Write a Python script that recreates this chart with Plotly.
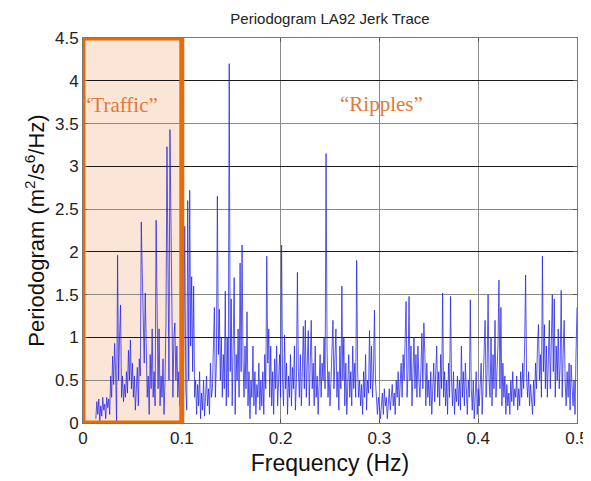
import numpy as np
import plotly.graph_objects as go

# Frequency grid (Hz): first bin and bin spacing
freq_start = 0.013
freq_step = 0.001

# Periodogram values, one per bin (0.013 ... 0.500 Hz)
traffic_vals = [
    0.05, 0.25, 0.10, 0.28, 0.02, 0.20, 0.08, 0.30, 0.15, 0.22,   # 0.013-0.022
    0.05, 0.30, 0.18, 0.28, 0.10, 0.55, 0.30, 0.78, 0.45, 0.93,   # 0.023-0.032
    0.60, 0.02, 1.96, 0.50, 1.00, 1.38, 0.30, 0.55, 0.25, 0.45,   # 0.033-0.042
    0.30, 0.60, 0.35, 0.85, 0.50, 0.97, 0.40, 0.70, 0.30, 0.55,   # 0.043-0.052
    0.15, 0.40, 0.65, 0.20, 0.75, 0.55, 2.35, 1.74, 1.10, 0.70,   # 0.053-0.062
    1.52, 0.90, 0.30, 0.55, 0.10, 0.80, 0.40, 1.10, 0.30, 0.60,   # 0.063-0.072
    0.20, 2.37, 0.90, 0.40, 1.10, 0.20, 0.55, 0.30, 0.75, 0.10,   # 0.073-0.082
    0.50, 1.20, 3.23, 1.90, 0.50, 3.43, 2.34, 0.70, 0.30, 1.00,   # 0.083-0.092
    1.17, 0.50, 0.90, 0.30, 0.60, 0.20, 0.50, 0.45,               # 0.093-0.100
]
ripple_vals = [
    0.30, 0.80, 2.30, 0.40, 0.15, 2.60, 0.50, 2.72, 0.90, 1.71,   # 0.101-0.110
    0.60, 1.60, 0.30, 0.50, 0.10, 0.45, 0.20, 0.60, 0.05, 0.35,   # 0.111-0.120
    0.15, 0.50, 0.08, 0.30, 0.55, 0.20, 0.40, 0.10, 0.70, 0.30,   # 0.121-0.130
    0.40, 0.90, 1.35, 0.30, 0.70, 2.65, 0.80, 1.33, 0.50, 1.00,   # 0.131-0.140
    0.30, 0.80, 0.40, 1.54, 0.20, 1.00, 0.30, 4.20, 0.60, 1.45,   # 0.141-0.150
    0.20, 0.90, 1.70, 0.10, 0.80, 0.50, 1.10, 0.30, 1.87, 0.60,   # 0.151-0.160
    2.08, 0.70, 0.30, 0.90, 0.40, 1.30, 0.20, 0.60, 0.05, 0.50,   # 0.161-0.170
    0.30, 0.90, 0.20, 0.60, 0.10, 0.45, 0.30, 0.70, 0.15, 0.50,   # 0.171-0.180
    0.20, 0.60, 0.10, 0.80, 0.40, 1.95, 0.70, 1.10, 0.30, 0.90,   # 0.181-0.190
    0.20, 0.60, 0.10, 0.75, 0.40, 0.90, 0.20, 0.50, 0.80, 0.30,   # 0.191-0.200
    2.08, 0.50, 0.20, 1.03, 0.40, 0.70, 0.10, 0.55, 0.30, 0.80,   # 0.201-0.210
    0.20, 0.65, 0.40, 0.90, 0.15, 0.50, 1.76, 0.60, 0.30, 0.80,   # 0.211-0.220
    0.20, 0.60, 1.13, 0.40, 1.20, 0.30, 0.90, 1.08, 0.20, 0.70,   # 0.221-0.230
    1.20, 0.40, 0.70, 0.20, 0.90, 0.30, 0.55, 0.10, 0.60, 0.80,   # 0.231-0.240
    0.30, 0.70, 0.50, 1.00, 0.40, 3.15, 0.90, 0.30, 0.60, 0.20,   # 0.241-0.250
    0.50, 0.90, 1.20, 0.40, 0.80, 1.10, 0.30, 0.60, 0.15, 0.90,   # 0.251-0.260
    0.40, 1.60, 0.50, 1.00, 0.20, 0.70, 0.10, 0.50, 0.80, 0.30,   # 0.261-0.270
    0.60, 0.20, 0.90, 0.40, 0.70, 0.30, 1.90, 0.60, 0.30, 0.50,   # 0.271-0.280
    0.20, 0.45, 0.10, 0.60, 0.30, 0.80, 0.15, 0.50, 0.35, 1.08,   # 0.281-0.290
    0.40, 0.90, 0.30, 0.60, 1.32, 0.50, 0.20, 0.10, 0.30, 0.15,   # 0.291-0.300
    0.05, 0.20, 0.35, 0.10, 0.40, 0.20, 0.30, 0.05, 0.25, 0.40,   # 0.301-0.310
    0.15, 0.30, 0.45, 0.20, 0.35, 0.10, 0.50, 0.30, 0.60, 0.20,   # 0.311-0.320
    0.40, 0.70, 0.30, 0.80, 0.50, 0.90, 1.42, 0.30, 0.60, 1.48,   # 0.321-0.330
    0.50, 0.90, 0.20, 0.60, 1.00, 0.40, 0.80, 0.30, 0.90, 0.50,   # 0.331-0.340
    0.30, 0.60, 1.05, 0.40, 1.17, 0.80, 0.20, 0.70, 0.30, 0.50,   # 0.341-0.350
    0.20, 0.60, 0.10, 0.40, 0.70, 0.25, 0.50, 0.90, 0.30, 0.60,   # 0.351-0.360
    0.20, 0.80, 0.40, 1.52, 0.30, 0.60, 0.20, 0.50, 0.10, 0.70,   # 0.361-0.370
    0.30, 1.48, 0.50, 0.20, 0.60, 0.10, 0.40, 0.25, 0.55, 0.20,   # 0.371-0.380
    0.50, 0.15, 0.90, 0.30, 0.60, 0.20, 0.70, 0.40, 0.10, 0.50,   # 0.381-0.390
    0.30, 1.44, 0.40, 0.15, 0.50, 0.05, 0.30, 0.60, 0.10, 0.40,   # 0.391-0.400
    0.20, 0.50, 0.70, 0.10, 0.40, 0.90, 1.20, 0.30, 0.60, 1.50,   # 0.401-0.410
    0.50, 0.30, 1.00, 0.20, 0.80, 0.40, 1.20, 0.30, 0.60, 0.90,   # 0.411-0.420
    1.67, 0.40, 1.35, 0.20, 0.70, 0.30, 0.55, 0.10, 0.45, 0.20,   # 0.421-0.430
    0.35, 0.10, 0.50, 0.25, 0.60, 0.20, 0.40, 0.30, 0.55, 0.15,   # 0.431-0.440
    0.40, 0.20, 0.60, 0.30, 0.70, 0.40, 0.90, 1.73, 0.50, 0.30,   # 0.441-0.450
    0.60, 0.20, 0.45, 0.30, 0.10, 0.50, 0.20, 0.70, 0.40, 0.90,   # 0.451-0.460
    1.15, 0.50, 0.80, 0.30, 1.95, 0.60, 1.15, 0.40, 0.90, 0.30,   # 0.461-0.470
    0.70, 1.20, 0.40, 0.80, 1.50, 0.60, 1.45, 0.30, 0.90, 0.50,   # 0.471-0.480
    1.10, 0.40, 0.70, 1.55, 0.30, 0.80, 1.20, 0.50, 0.20, 0.60,   # 0.481-0.490
    0.30, 0.70, 0.15, 0.68, 0.40, 0.20, 0.50, 0.10, 0.80, 1.35,   # 0.491-0.500
]
values = traffic_vals + ripple_vals
freqs = freq_start + freq_step * np.arange(len(values))

x_ticks = [0, 0.1, 0.2, 0.3, 0.4, 0.5]
x_ticklabels = ["0", "0.1", "0.2", "0.3", "0.4", "0.5"]
y_ticks = [0, 0.5, 1, 1.5, 2, 2.5, 3, 3.5, 4, 4.5]
y_ticklabels = ["0", "0.5", "1", "1.5", "2", "2.5", "3", "3.5", "4", "4.5"]
y_major_grid = [1, 2, 3, 4]

traffic_band = [0.0, 0.1]
labels = ["\u201cTraffic\u201d", "\u201cRipples\u201d"]
label_x = [0.037, 0.3025]
label_y = [3.72, 3.73]

ORANGE = "#E46C0A"
TXT_ORANGE = "#E07A35"

fig = go.Figure()
fig.add_trace(go.Scatter(
    x=freqs, y=values, mode="lines",
    line=dict(color="rgb(35,35,232)", width=0.75),
    showlegend=False, hoverinfo="skip",
))
# empty trace so the overlaid axis (darker integer gridlines) is drawn
fig.add_trace(go.Scatter(x=[None], y=[None], yaxis="y2", showlegend=False,
                         hoverinfo="skip", mode="lines"))

# light fill behind the traffic band
fig.add_shape(type="rect", xref="x", yref="y",
              x0=traffic_band[0], x1=traffic_band[1], y0=0, y1=4.5,
              fillcolor="#FBE5D6", line=dict(width=0), layer="below")
# orange border of the band
fig.add_shape(type="rect", xref="x", yref="y",
              x0=traffic_band[0], x1=traffic_band[1], y0=0, y1=4.5,
              fillcolor="rgba(0,0,0,0)", line=dict(color=ORANGE, width=5), layer="above")

for t, xx, yy in zip(labels, label_x, label_y):
    fig.add_annotation(x=xx, y=yy, xref="x", yref="y", text=t, showarrow=False,
                       font=dict(family="Liberation Serif, Times New Roman, serif",
                                 size=21, color=TXT_ORANGE))

axis_font = dict(family="Liberation Sans, Arial, sans-serif", size=17, color="#222")

# the page body adds an 8 px margin, so the figure is 8 px smaller than the window
fig.update_layout(
    width=583, height=473,
    margin=dict(l=75, r=14, t=30, b=58, autoexpand=False),
    paper_bgcolor="white", plot_bgcolor="white",
    title=dict(text="Periodogram LA92 Jerk Trace", x=0.5, xanchor="center",
               xref="paper", y=0.978, yanchor="middle", automargin=False,
               font=dict(family="Liberation Sans, Arial, sans-serif", size=15, color="#222")),
    xaxis=dict(range=[0, 0.5], tickvals=x_ticks, ticktext=x_ticklabels, automargin=False,
               showgrid=True, gridcolor="#8a8a8a", gridwidth=1, zeroline=False,
               showline=True, linecolor="#777", mirror="ticks",
               ticks="inside", ticklen=4, tickcolor="#555",
               tickfont=axis_font,
               title=dict(text="Frequency (Hz)", standoff=7,
                          font=dict(family="Liberation Sans, Arial, sans-serif", size=23, color="#111"))),
    yaxis=dict(range=[0, 4.5], tickvals=y_ticks, ticktext=y_ticklabels, automargin=False,
               showgrid=True, gridcolor="#8a8a8a", gridwidth=1, zeroline=False,
               showline=True, linecolor="#777", mirror="ticks",
               ticks="inside", ticklen=4, tickcolor="#555",
               tickfont=axis_font,
               title=dict(text="Periodogram (m<sup>2</sup>/s<sup>6</sup>/Hz)", standoff=4,
                          font=dict(family="Liberation Sans, Arial, sans-serif", size=22, color="#111"))),
    yaxis2=dict(range=[0, 4.5], overlaying="y", tickvals=y_major_grid, showgrid=True,
                gridcolor="#1a1a1a", gridwidth=1, showticklabels=False, automargin=False,
                zeroline=False, showline=False, ticks=""),
)

fig.write_html("out.html")
